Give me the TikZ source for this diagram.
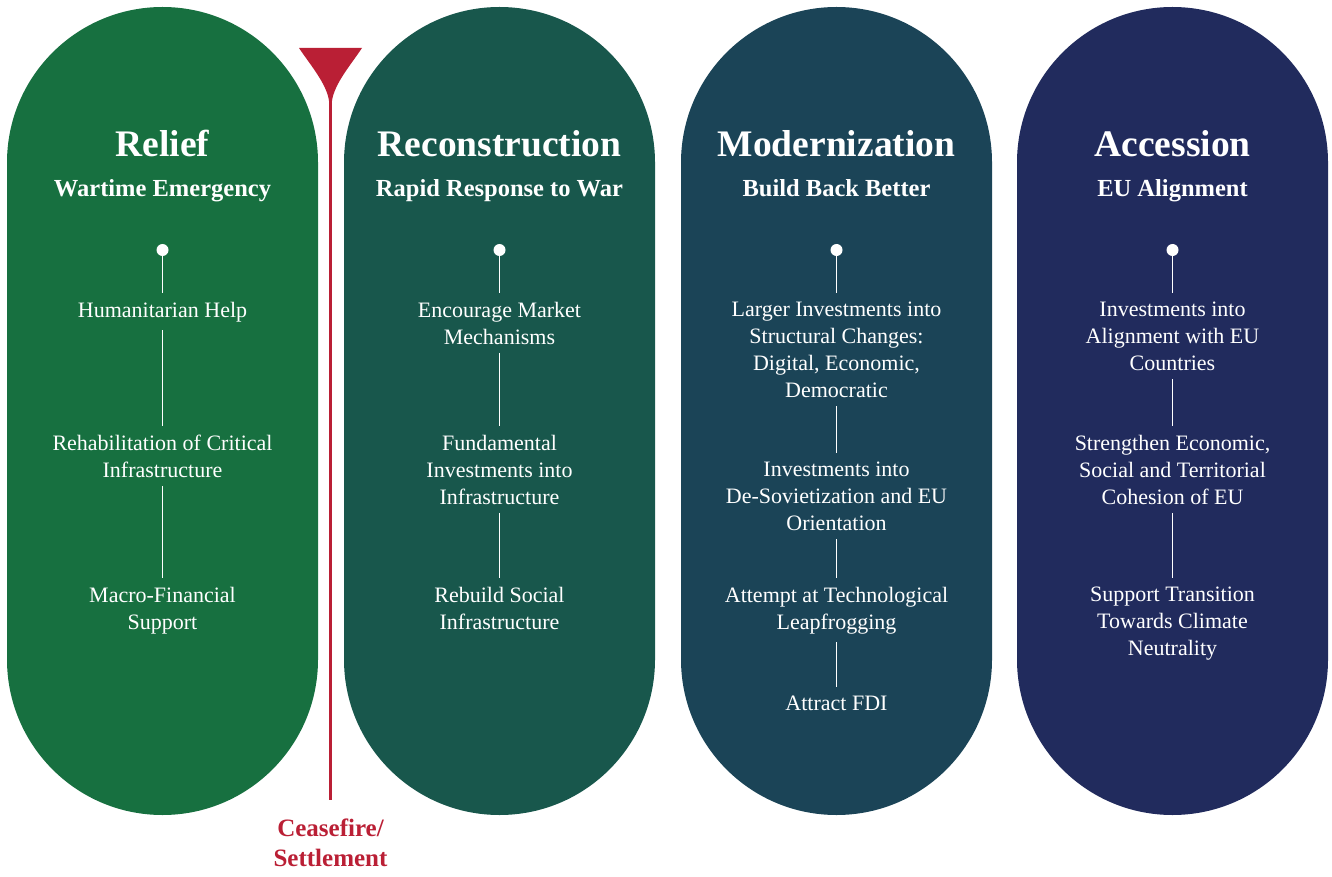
\documentclass[tikz,border=0pt]{standalone}
\usepackage{fontspec}
\setmainfont{Liberation Serif}
\definecolor{reliefcol}{HTML}{177040}
\definecolor{reconcol}{HTML}{18574C}
\definecolor{moderncol}{HTML}{1B4457}
\definecolor{accesscol}{HTML}{212B5D}
\definecolor{ceasecol}{HTML}{BA1F35}
\begin{document}
\begin{tikzpicture}[x=1pt,y=-1pt]
            \tikzstyle{pill}=[rounded corners=155.5pt]
            \tikzstyle{phase}=[anchor=base, text=white, inner sep=0pt, font=\bfseries\fontsize{37.5}{42}\selectfont]
            \tikzstyle{goal}=[anchor=base, text=white, inner sep=0pt, font=\bfseries\fontsize{24.5}{27}\selectfont]
            \tikzstyle{dot}=[circle, fill=white, inner sep=0pt, minimum size=12pt]
            \tikzstyle{item}=[anchor=north, text=white, align=center, inner sep=0pt, font=\fontsize{22}{27}\selectfont]
            \tikzstyle{stem}=[draw=white, line width=1.2pt, shorten >=9pt, shorten <=8pt]
            \tikzstyle{firststem}=[draw=white, line width=1.2pt, shorten >=9pt]
            \useasboundingbox (0,0) rectangle (1332,877);
            % the four phases
            \fill[pill, reliefcol] (7,7) rectangle (318,815);
            \fill[pill, reconcol] (344,7) rectangle (655,815);
            \fill[pill, moderncol] (681,7) rectangle (992,815);
            \fill[pill, accesscol] (1017,7) rectangle (1328,815);
            % relief
            \node[phase] (rt) at (162.5,157) {Relief};
            \node[goal] (rg) at (162.5,197) {Wartime Emergency};
            \node[dot] (rdot) at (162.5,250) {};
            \node[item] (r1) at (162.5,302) {Humanitarian Help};
            \node[item] (r2) at (162.5,435) {Rehabilitation of Critical\\Infrastructure};
            \node[item] (r3) at (162.5,587) {Macro-Financial\\Support};
            \path (rdot) edge[firststem] (r1);
            \path (r1) edge[stem] (r2);
            \path (r2) edge[stem] (r3);
            % reconstruction
            \node[phase] (ct) at (499.5,157) {Reconstruction};
            \node[goal] (cg) at (499.5,197) {Rapid Response to War};
            \node[dot] (cdot) at (499.5,250) {};
            \node[item] (c1) at (499.5,302) {Encourage Market\\Mechanisms};
            \node[item] (c2) at (499.5,435) {Fundamental\\Investments into\\Infrastructure};
            \node[item] (c3) at (499.5,587) {Rebuild Social\\Infrastructure};
            \path (cdot) edge[firststem] (c1);
            \path (c1) edge[stem] (c2);
            \path (c2) edge[stem] (c3);
            % modernization
            \node[phase] (mt) at (836.5,157) {Modernization};
            \node[goal] (mg) at (836.5,197) {Build Back Better};
            \node[dot] (mdot) at (836.5,250) {};
            \node[item] (m1) at (836.5,302) {Larger Investments into\\Structural Changes:\\Digital, Economic,\\Democratic};
            \node[item] (m2) at (836.5,462) {Investments into\\De-Sovietization and EU\\Orientation};
            \node[item] (m3) at (836.5,587) {Attempt at Technological\\Leapfrogging};
            \node[item] (m4) at (836.5,696) {Attract FDI};
            \path (mdot) edge[firststem] (m1);
            \path (m1) edge[stem] (m2);
            \path (m2) edge[stem] (m3);
            \path (m3) edge[stem] (m4);
            % accession
            \node[phase] (at) at (1172.5,157) {Accession};
            \node[goal] (ag) at (1172.5,197) {EU Alignment};
            \node[dot] (adot) at (1172.5,250) {};
            \node[item] (a1) at (1172.5,302) {Investments into\\Alignment with EU\\Countries};
            \node[item] (a2) at (1172.5,435) {Strengthen Economic,\\Social and Territorial\\Cohesion of EU};
            \node[item] (a3) at (1172.5,587) {Support Transition\\Towards Climate\\Neutrality};
            \path (adot) edge[firststem] (a1);
            \path (a1) edge[stem] (a2);
            \path (a2) edge[stem] (a3);
            % ceasefire marker
            \fill[ceasecol] (299,48) -- (362,48) .. controls (350,66) and (334,84) .. (331.8,102)
                -- (329.2,102) .. controls (327,84) and (311,66) .. (299,48) -- cycle;
            \coordinate (tip) at (330.5,100);
            \node[anchor=north, text=ceasecol, align=center, inner sep=0pt,
                  font=\bfseries\fontsize{25}{30}\selectfont] (cease) at (330.5,819) {Ceasefire/\\Settlement};
            \path (tip) edge[draw=ceasecol, line width=2.6pt, shorten >=19pt] (cease);
        \end{tikzpicture}
\end{document}
